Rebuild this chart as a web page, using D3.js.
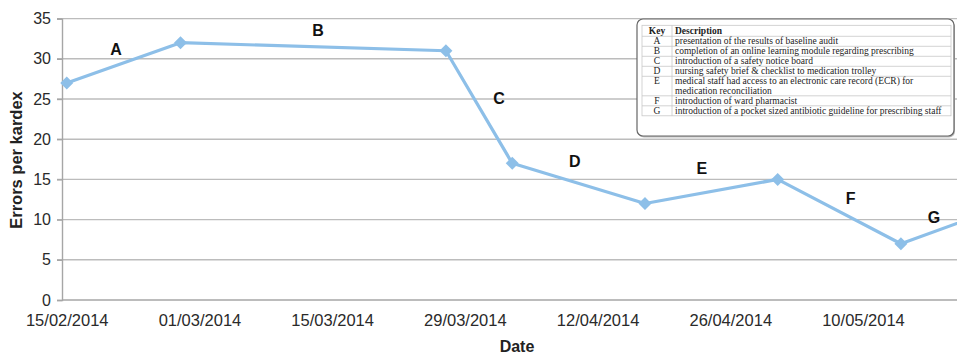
<!DOCTYPE html>
<html>
<head>
<meta charset="utf-8">
<script src="https://cdn.jsdelivr.net/npm/d3@7"></script>
<style>
  html, body { margin: 0; padding: 0; background: #fff; overflow: hidden; }
  svg { display: block; }
</style>
</head>
<body>
<svg id="chart" width="957" height="355"></svg>
<script>
// Audit dates and kardex error counts
const dates = ["2014-02-15", "2014-02-27", "2014-03-27", "2014-04-03", "2014-04-17", "2014-05-01", "2014-05-14", "2014-05-21"];
const errors = [27, 32, 31, 17, 12, 15, 7, 10];

// Axis ticks
const xTickDates = ["2014-02-15", "2014-03-01", "2014-03-15", "2014-03-29", "2014-04-12", "2014-04-26", "2014-05-10"];
const yTicks = [0, 5, 10, 15, 20, 25, 30, 35];

// Intervention letters placed along the line (days after first audit, errors level)
const annotLetters = ["A", "B", "C", "D", "E", "F", "G"];
const annotDays = [5.2, 26.5, 45.6, 53.6, 67.0, 82.7, 91.5];
const annotValues = [31.15, 33.5, 25.1, 17.2, 16.4, 12.6, 10.3];

// Key table
const keyLetters = ["A", "B", "C", "D", "E", "F", "G"];
const keyDescriptions = [
  ["presentation of the results of baseline audit"],
  ["completion of an online learning module regarding prescribing"],
  ["introduction of a safety notice board"],
  ["nursing safety brief & checklist to medication trolley"],
  ["medical staff had access to an electronic care record (ECR) for", "medication reconciliation"],
  ["introduction of ward pharmacist"],
  ["introduction of a pocket sized antibiotic guideline for prescribing staff"]
];

(function () {
  const parse = d3.utcParse("%Y-%m-%d");
  const fmt = d3.utcFormat("%d/%m/%Y");
  const DAY = 864e5;

  const svg = d3.select("#chart");
  const plotLeft = 62, plotRight = 972, plotTop = 18.6, plotBottom = 300;

  const first = parse(dates[0]), last = parse(dates[dates.length - 1]);
  const x = d3.scaleUtc()
    .domain([new Date(+first - DAY / 2), new Date(+last + DAY / 2)])
    .range([plotLeft, plotRight]);
  const y = d3.scaleLinear().domain([0, 35]).range([plotBottom, plotTop]);

  const font = "'Liberation Sans', Arial, sans-serif";

  // Horizontal gridlines
  svg.append("g")
    .selectAll("line")
    .data(yTicks.filter(v => v > 0))
    .join("line")
    .attr("x1", plotLeft - 5).attr("x2", plotRight)
    .attr("y1", d => y(d)).attr("y2", d => y(d))
    .attr("stroke", "#bcbcbc").attr("stroke-width", 1.4);

  // Y axis
  const yAxis = svg.append("g")
    .attr("transform", `translate(${plotLeft},0)`)
    .call(d3.axisLeft(y).tickValues(yTicks).tickSize(5).tickPadding(6).tickFormat(d3.format("d")));
  yAxis.select(".domain").attr("stroke", "#a6a6a6").attr("stroke-width", 1.4);
  yAxis.selectAll(".tick line").attr("stroke", "#a6a6a6").attr("stroke-width", 1.4);
  yAxis.selectAll(".tick text")
    .attr("font-family", font).attr("font-size", 16).attr("fill", "#2a2a2a");

  // X axis
  const xAxis = svg.append("g")
    .attr("transform", `translate(0,${plotBottom})`)
    .call(d3.axisBottom(x).tickValues(xTickDates.map(parse)).tickSize(0).tickPadding(14).tickFormat(fmt));
  xAxis.select(".domain").attr("stroke", "#a6a6a6").attr("stroke-width", 1.4)
    .attr("d", `M${plotLeft},0H${plotRight}`);
  xAxis.selectAll(".tick text")
    .attr("font-family", font).attr("font-size", 16.5).attr("fill", "#2a2a2a");

  // Axis titles
  svg.append("text")
    .attr("transform", `translate(22,160) rotate(-90)`)
    .attr("text-anchor", "middle")
    .attr("font-family", font).attr("font-weight", "bold").attr("font-size", 16.5)
    .attr("fill", "#222")
    .text("Errors per kardex");

  svg.append("text")
    .attr("x", (plotLeft + plotRight) / 2).attr("y", 352)
    .attr("text-anchor", "middle")
    .attr("font-family", font).attr("font-weight", "bold").attr("font-size", 16)
    .attr("fill", "#222")
    .text("Date");

  // Series line and diamond markers
  const pts = dates.map((d, i) => ({ date: parse(d), value: errors[i] }));
  const lineColor = "#8dbfe8";
  svg.append("path")
    .datum(pts)
    .attr("fill", "none")
    .attr("stroke", lineColor).attr("stroke-width", 3.2)
    .attr("stroke-linejoin", "round")
    .attr("d", d3.line().x(d => x(d.date)).y(d => y(d.value)));

  svg.append("g")
    .selectAll("path")
    .data(pts)
    .join("path")
    .attr("transform", d => `translate(${x(d.date)},${y(d.value)})`)
    .attr("d", "M0,-6.5L6.5,0L0,6.5L-6.5,0Z")
    .attr("fill", lineColor);

  // Intervention letters
  svg.append("g")
    .selectAll("text")
    .data(annotLetters)
    .join("text")
    .attr("x", (d, i) => x(new Date(+first + annotDays[i] * DAY)))
    .attr("y", (d, i) => y(annotValues[i]))
    .attr("dy", "0.36em")
    .attr("text-anchor", "middle")
    .attr("font-family", font).attr("font-weight", "bold").attr("font-size", 16)
    .attr("fill", "#111")
    .text(d => d);

  // Key box
  const kx = 637, ky = 19, kw = 317, kh = 117;
  svg.append("rect")
    .attr("x", kx + 1).attr("y", ky + 1.5).attr("width", kw).attr("height", kh)
    .attr("rx", 6).attr("fill", "#bbb");
  svg.append("rect")
    .attr("x", kx).attr("y", ky).attr("width", kw).attr("height", kh)
    .attr("rx", 6).attr("fill", "#fff").attr("stroke", "#666").attr("stroke-width", 1.2);

  const tx0 = 642, tx1 = 951, tcol = 672, ty0 = 25.3;
  const serif = "'Liberation Serif', 'Times New Roman', serif";
  const fs = 9.5;
  const table = svg.append("g");

  // row boundaries
  const rowTops = [ty0];
  let cy = ty0 + 11;
  rowTops.push(cy);
  keyDescriptions.forEach(lines => { cy += lines.length * 9.5 + 0.5; rowTops.push(cy); });
  const tableBottom = rowTops[rowTops.length - 1];

  table.append("rect")
    .attr("x", tx0).attr("y", ty0).attr("width", tx1 - tx0).attr("height", tableBottom - ty0)
    .attr("fill", "none").attr("stroke", "#c8c8c8").attr("stroke-width", 0.8);
  table.selectAll("line.row")
    .data(rowTops.slice(1, -1))
    .join("line")
    .attr("class", "row")
    .attr("x1", tx0).attr("x2", tx1).attr("y1", d => d).attr("y2", d => d)
    .attr("stroke", "#c8c8c8").attr("stroke-width", 0.8);
  table.append("line")
    .attr("x1", tcol).attr("x2", tcol).attr("y1", ty0).attr("y2", tableBottom)
    .attr("stroke", "#c8c8c8").attr("stroke-width", 0.8);

  // header
  table.append("text")
    .attr("x", (tx0 + tcol) / 2).attr("y", ty0 + 8.5)
    .attr("text-anchor", "middle")
    .attr("font-family", serif).attr("font-weight", "bold").attr("font-size", fs).attr("fill", "#222")
    .text("Key");
  table.append("text")
    .attr("x", tcol + 3).attr("y", ty0 + 8.5)
    .attr("font-family", serif).attr("font-weight", "bold").attr("font-size", fs).attr("fill", "#222")
    .text("Description");

  keyLetters.forEach((k, i) => {
    const rowY = rowTops[i + 1];
    table.append("text")
      .attr("x", (tx0 + tcol) / 2).attr("y", rowY + 7.9)
      .attr("text-anchor", "middle")
      .attr("font-family", serif).attr("font-size", fs).attr("fill", "#222")
      .text(k);
    keyDescriptions[i].forEach((line, j) => {
      table.append("text")
        .attr("x", tcol + 3).attr("y", rowY + 7.9 + j * 9.5)
        .attr("font-family", serif).attr("font-size", fs).attr("fill", "#222")
        .text(line);
    });
  });
})();
</script>
</body>
</html>
